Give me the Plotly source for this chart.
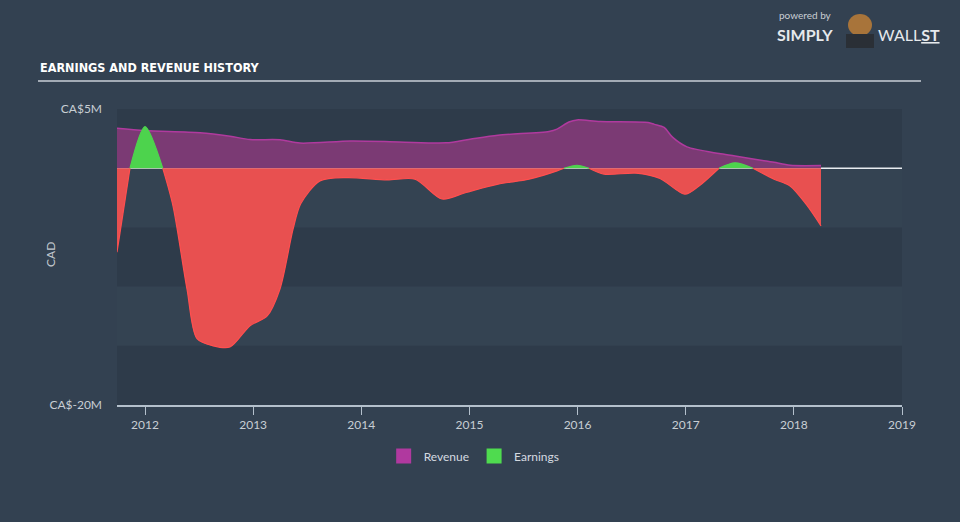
import plotly.graph_objects as go

# ---- data (values in CA$ millions, x in decimal years) ----
rev_x = [2011.741, 2012.000, 2012.509, 2012.786, 2012.971, 2013.248, 2013.433, 2013.905,
         2014.349, 2014.783, 2015.005, 2015.264, 2015.736, 2015.810, 2015.920, 2015.995,
         2016.208, 2016.652, 2016.710, 2016.800, 2016.880, 2017.012, 2017.308, 2017.456,
         2017.743, 2017.817, 2017.965, 2018.251]
rev_y = [3.38, 3.18, 3.00, 2.70, 2.42, 2.40, 2.12, 2.30,
         2.22, 2.14, 2.45, 2.79, 3.10, 3.30, 3.90, 4.08,
         3.94, 3.86, 3.70, 3.44, 2.60, 1.80, 1.24, 1.04,
         0.60, 0.50, 0.25, 0.23]

earn_x = [2011.741, 2011.861, 2012.000, 2012.164, 2012.259, 2012.388, 2012.481, 2012.629,
          2012.786, 2012.971, 2013.128, 2013.248, 2013.369, 2013.440, 2013.618, 2013.868,
          2014.238, 2014.497, 2014.746, 2014.968, 2015.264, 2015.551, 2015.810, 2015.874,
          2015.995, 2016.106, 2016.244, 2016.540, 2016.762, 2016.993, 2017.123, 2017.308,
          2017.456, 2017.622, 2017.817, 2017.965, 2018.113, 2018.251]
earn_y = [-7.10, 0.00, 3.52, 0.00, -3.20, -10.20, -14.40, -15.00,
          -15.10, -13.30, -12.50, -10.20, -5.15, -3.00, -1.07, -0.79,
          -0.99, -0.93, -2.60, -2.05, -1.35, -0.93, -0.23, 0.00,
          0.25, 0.00, -0.50, -0.42, -0.87, -2.20, -1.50, 0.00,
          0.45, 0.00, -0.93, -1.50, -3.04, -4.87]

year_ticks = [2012, 2013, 2014, 2015, 2016, 2017, 2018, 2019]
tick_labels = ["2012", "2013", "2014", "2015", "2016", "2017", "2018", "2019"]
y_ticks = [5, -20]
y_tick_labels = ["CA$5M", "CA$-20M"]

# ---- geometry helpers (pixel -> paper) ----
L, R, T, B = 117, 902, 109, 405
W, H = 960, 522
def px(x):
    return (x - L) / (R - L)
def py(y):
    return (B - y) / (B - T)

FONT = "Lato, 'Open Sans', sans-serif"

neg_y = [v if v <= 0 else None for v in earn_y]
pos_y = [v if v >= 0 else None for v in earn_y]

fig = go.Figure()
fig.add_trace(go.Scatter(
    x=rev_x, y=rev_y, mode="lines", fill="tozeroy",
    line=dict(color="#b03a9e", width=1.5, shape="spline", smoothing=0.8),
    fillcolor="#7b3a74", showlegend=False, hoverinfo="skip"))
fig.add_trace(go.Scatter(
    x=earn_x, y=neg_y, mode="lines", fill="tozeroy",
    line=dict(color="#ff4f4f", width=1.2, shape="spline", smoothing=0.8),
    fillcolor="#e85050", showlegend=False, hoverinfo="skip"))
fig.add_trace(go.Scatter(
    x=earn_x, y=pos_y, mode="lines", fill="tozeroy",
    line=dict(color="#4fd34f", width=1.2, shape="spline", smoothing=0.8),
    fillcolor="#4dd34d", showlegend=False, hoverinfo="skip"))

# legend entries
fig.add_trace(go.Scatter(x=[None], y=[None], mode="markers", name="Revenue",
                         marker=dict(symbol="square", size=15, color="#b0399f")))
fig.add_trace(go.Scatter(x=[None], y=[None], mode="markers", name="Earnings",
                         marker=dict(symbol="square", size=15, color="#4fdb4f")))

shapes = []
# stripes (dark bands)
for y0, y1 in [(5, 0), (-5, -10), (-15, -20)]:
    shapes.append(dict(type="rect", xref="paper", yref="y", x0=0, x1=1, y0=y0, y1=y1,
                       fillcolor="#2e3b4a", line=dict(width=0), layer="below"))
# zero line
shapes.append(dict(type="line", xref="paper", yref="y", x0=0, x1=1, y0=0, y1=0,
                   line=dict(color="#e8ecf0", width=1.5), layer="below"))
# title underline
shapes.append(dict(type="line", xref="paper", yref="paper", x0=px(38), x1=px(921),
                   y0=py(81), y1=py(81), line=dict(color="#a3abb5", width=2)))
# simple logo mascot
shapes.append(dict(type="circle", xref="paper", yref="paper",
                   x0=px(848), x1=px(872), y0=py(36), y1=py(14),
                   fillcolor="#a8743a", line=dict(width=0)))
shapes.append(dict(type="rect", xref="paper", yref="paper",
                   x0=px(846), x1=px(874), y0=py(48), y1=py(34),
                   fillcolor="#2a2f36", line=dict(width=0)))

annotations = [
    dict(text="<b>EARNINGS AND REVENUE HISTORY</b>", xref="paper", yref="paper",
         x=px(38), y=py(68), xanchor="left", yanchor="middle", showarrow=False,
         font=dict(family="'Liberation Sans Narrow', 'DejaVu Sans Condensed', sans-serif",
                   size=12.5, color="#ffffff")),
    dict(text="CAD", xref="paper", yref="paper", x=px(50), y=py(255), textangle=-90,
         xanchor="center", yanchor="middle", showarrow=False,
         font=dict(family=FONT, size=12, color="#c3c9cf")),
    dict(text="powered by", xref="paper", yref="paper", x=px(777), y=py(15),
         xanchor="left", yanchor="middle", showarrow=False,
         font=dict(family=FONT, size=10, color="#c9ced4")),
    dict(text="<b>SIMPLY</b>", xref="paper", yref="paper", x=px(775), y=py(34),
         xanchor="left", yanchor="middle", showarrow=False,
         font=dict(family=FONT, size=16, color="#e6e9ec")),
    dict(text="WALL<u><b>ST</b></u>", xref="paper", yref="paper", x=px(876), y=py(34),
         xanchor="left", yanchor="middle", showarrow=False,
         font=dict(family=FONT, size=16, color="#e6e9ec")),
]

fig.update_layout(
    width=W, height=H,
    margin=dict(l=L, r=W - R, t=T, b=H - B),
    paper_bgcolor="#334151",
    plot_bgcolor="#344352",
    shapes=shapes,
    annotations=annotations,
    showlegend=True,
    legend=dict(orientation="h", x=0.455, y=py(456), xanchor="center", yanchor="middle",
                font=dict(family=FONT, size=12, color="#d5dae0"),
                bgcolor="rgba(0,0,0,0)", itemwidth=30),
    xaxis=dict(range=[2011.741, 2019.0], tickvals=year_ticks, ticktext=tick_labels,
               showgrid=False, zeroline=False, showline=True, linecolor="#b4c0cc",
               linewidth=1.5, ticks="outside", ticklen=8, tickcolor="#b4c0cc",
               tickfont=dict(family=FONT, size=12, color="#c8ced4")),
    yaxis=dict(range=[-20, 5], tickvals=y_ticks, ticktext=y_tick_labels,
               showgrid=False, zeroline=False, showline=False, ticks="",
               ticklabelstandoff=14,
               tickfont=dict(family=FONT, size=12, color="#c8ced4")),
)

fig.write_html("out.html")
